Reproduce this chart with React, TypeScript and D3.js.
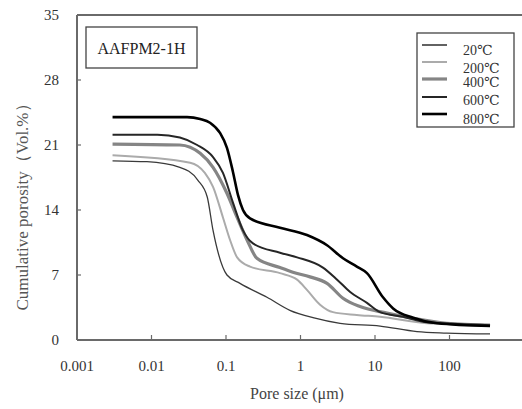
import { useEffect, useRef } from "react";
import * as d3 from "d3";

// pore size (µm) and cumulative porosity (vol %)
const x20 = [0.003, 0.0087, 0.024, 0.042, 0.056, 0.067, 0.103, 0.154, 0.355, 0.72, 1.47, 3.4, 11.7, 36.6, 92, 350];
const y20 = [19.3, 19.2, 18.6, 17.2, 15.4, 11.8, 7.0, 6.1, 4.6, 3.2, 2.4, 1.8, 1.5, 0.9, 0.75, 0.65];

const x200 = [0.003, 0.033, 0.052, 0.067, 0.091, 0.113, 0.141, 0.21, 0.53, 0.9, 1.22, 1.83, 2.73, 5.7, 11.7, 50, 138, 350];
const y200 = [19.9, 19.1, 18.0, 16.5, 13.2, 10.8, 8.9, 7.9, 7.2, 6.5, 5.4, 3.8, 3.0, 2.7, 2.5, 1.8, 1.7, 1.6];

const x400 = [0.003, 0.024, 0.045, 0.067, 0.103, 0.141, 0.191, 0.26, 0.53, 0.79, 1.34, 2.27, 3.72, 6.3, 14.5, 29.5, 92, 350];
const y400 = [21.1, 21.0, 20.1, 18.6, 15.8, 13.2, 10.8, 8.8, 7.8, 7.3, 6.8, 6.1, 4.5, 3.6, 2.9, 2.4, 1.8, 1.6];

const x600 = [0.003, 0.012, 0.024, 0.041, 0.067, 0.091, 0.124, 0.169, 0.23, 0.53, 0.9, 2.0, 3.1, 4.6, 7.8, 11.7, 23.8, 50, 350];
const y600 = [22.1, 22.1, 21.8, 21.0, 19.7, 18.0, 14.8, 11.8, 10.4, 9.4, 8.9, 7.8, 6.5, 5.2, 4.0, 3.0, 2.5, 1.9, 1.6];

const x800 = [0.003, 0.03, 0.045, 0.061, 0.083, 0.103, 0.124, 0.145, 0.169, 0.21, 0.53, 1.22, 2.27, 3.72, 5.7, 7.8, 12.8, 17.5, 32.4, 68, 350];
const y800 = [24.0, 24.0, 23.8, 23.4, 22.3, 20.7, 18.1, 15.6, 14.0, 13.1, 12.1, 11.3, 10.2, 8.8, 7.9, 7.2, 4.6, 3.4, 2.4, 1.8, 1.5];

const seriesNames = ["20℃", "200℃", "400℃", "600℃", "800℃"];
const xTicks = [0.001, 0.01, 0.1, 1, 10, 100];
const yTicks = [0, 7, 14, 21, 28, 35];

const styles = [
  { color: "#3a3a3a", width: 1.3 },
  { color: "#ababab", width: 2 },
  { color: "#858585", width: 3.2 },
  { color: "#262626", width: 2 },
  { color: "#000000", width: 2.6 },
];

export default function App() {
  const ref = useRef<SVGSVGElement>(null);

  useEffect(() => {
    const width = 522;
    const height = 409;
    const font = "'Liberation Serif', 'DejaVu Serif', serif";

    const svg = d3.select(ref.current);
    svg.selectAll("*").remove();
    svg.attr("width", width).attr("height", height);

    const x = d3.scaleLog().domain([0.001, 1000]).range([77, 524]);
    const y = d3.scaleLinear().domain([0, 35]).range([340, 15]);

    const series = [
      [x20, y20],
      [x200, y200],
      [x400, y400],
      [x600, y600],
      [x800, y800],
    ];

    const line = d3
      .line<[number, number]>()
      .x((d) => x(d[0]))
      .y((d) => y(d[1]))
      .curve(d3.curveMonotoneX);

    series.forEach(([xs, ys], i) => {
      const pts = xs.map((v, j) => [v, ys[j]] as [number, number]);
      svg
        .append("path")
        .attr("d", line(pts))
        .attr("fill", "none")
        .attr("stroke", styles[i].color)
        .attr("stroke-width", styles[i].width)
        .attr("stroke-linejoin", "round");
    });

    const axisColor = "#6a6a6a";

    // frame lines
    svg.append("line")
      .attr("x1", x(0.001)).attr("x2", width)
      .attr("y1", y(35)).attr("y2", y(35))
      .attr("stroke", axisColor).attr("stroke-width", 2);
    svg.append("line")
      .attr("x1", x(0.001)).attr("x2", width)
      .attr("y1", y(0)).attr("y2", y(0))
      .attr("stroke", axisColor).attr("stroke-width", 2);
    svg.append("line")
      .attr("x1", x(0.001)).attr("x2", x(0.001))
      .attr("y1", y(35)).attr("y2", y(0))
      .attr("stroke", axisColor).attr("stroke-width", 2);

    // x ticks
    xTicks.forEach((t) => {
      svg.append("line")
        .attr("x1", x(t)).attr("x2", x(t))
        .attr("y1", y(0)).attr("y2", y(0) - 5)
        .attr("stroke", axisColor).attr("stroke-width", 1.2);
      svg.append("text")
        .attr("x", x(t)).attr("y", 371)
        .attr("text-anchor", "middle")
        .attr("font-family", font).attr("font-size", 15)
        .attr("fill", "#333")
        .text(String(t));
    });

    // y ticks
    yTicks.forEach((t) => {
      svg.append("line")
        .attr("x1", x(0.001)).attr("x2", x(0.001) + 4)
        .attr("y1", y(t)).attr("y2", y(t))
        .attr("stroke", axisColor).attr("stroke-width", 1.2);
      svg.append("text")
        .attr("x", 59).attr("y", y(t) + 5)
        .attr("text-anchor", "end")
        .attr("font-family", font).attr("font-size", 15)
        .attr("fill", "#333")
        .text(String(t));
    });

    svg.append("text")
      .attr("x", 297).attr("y", 399)
      .attr("text-anchor", "middle")
      .attr("font-family", font).attr("font-size", 16)
      .attr("fill", "#444")
      .text("Pore size (μm)");

    svg.append("text")
      .attr("transform", "translate(28,203) rotate(-90)")
      .attr("text-anchor", "middle")
      .attr("font-family", font).attr("font-size", 17)
      .attr("fill", "#555")
      .text("Cumulative porosity（Vol.%）");

    // sample label box
    svg.append("rect")
      .attr("x", 86).attr("y", 27).attr("width", 111).attr("height", 41)
      .attr("fill", "white").attr("stroke", "#444").attr("stroke-width", 1.3);
    svg.append("text")
      .attr("x", 141.5).attr("y", 54)
      .attr("text-anchor", "middle")
      .attr("font-family", font).attr("font-size", 16)
      .attr("fill", "#222")
      .text("AAFPM2-1H");

    // legend
    const lg = svg.append("g");
    lg.append("rect")
      .attr("x", 417).attr("y", 33).attr("width", 97).attr("height", 94)
      .attr("fill", "white").attr("stroke", "#444").attr("stroke-width", 1.3);
    const lineYs = [45, 62, 79, 97, 114];
    const textYs = [55, 73, 87, 105, 124];
    seriesNames.forEach((name, i) => {
      lg.append("line")
        .attr("x1", 422).attr("x2", 447)
        .attr("y1", lineYs[i]).attr("y2", lineYs[i])
        .attr("stroke", styles[i].color)
        .attr("stroke-width", Math.max(1.6, styles[i].width));
      lg.append("text")
        .attr("x", 463).attr("y", textYs[i])
        .attr("font-family", font).attr("font-size", 14)
        .attr("fill", "#333")
        .text(name);
    });
  }, []);

  return (
    <svg
      ref={ref}
      style={{ position: "absolute", left: 0, top: 0, background: "white" }}
    />
  );
}
